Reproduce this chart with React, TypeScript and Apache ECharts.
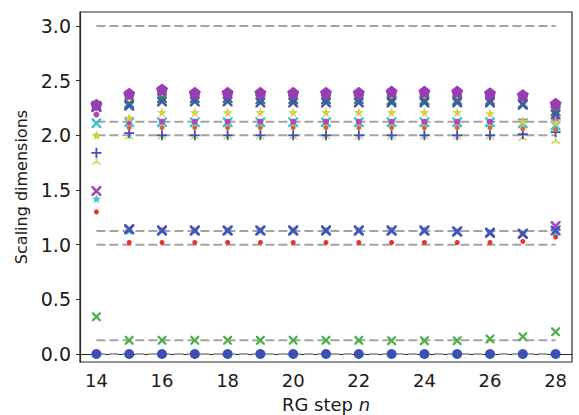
import React, { useEffect, useRef } from "react";
import * as echarts from "echarts";

const steps = [14, 15, 16, 17, 18, 19, 20, 21, 22, 23, 24, 25, 26, 27, 28];
const exactDims = [0, 0.125, 1, 1.125, 2, 2.125, 3];
const xTicks = [14, 16, 18, 20, 22, 24, 26, 28];
const yTicks = [0, 0.5, 1, 1.5, 2, 2.5, 3];

const blueCircle = [0, 0, 0, 0, 0, 0, 0, 0, 0, 0, 0, 0, 0, 0, 0];
const greenX = [0.34, 0.125, 0.125, 0.125, 0.125, 0.125, 0.125, 0.125, 0.125, 0.122, 0.122, 0.122, 0.137, 0.158, 0.203];
const redDot = [1.3, 1.02, 1.02, 1.02, 1.02, 1.02, 1.02, 1.02, 1.02, 1.02, 1.02, 1.02, 1.02, 1.03, 1.07];
const blueX = [null, 1.14, 1.13, 1.13, 1.13, 1.13, 1.13, 1.13, 1.13, 1.13, 1.13, 1.12, 1.11, 1.1, 1.13];
const cyanStar = [1.42, 1.13, 1.13, 1.13, 1.13, 1.13, 1.13, 1.13, 1.13, 1.13, 1.13, 1.12, 1.11, 1.1, 1.12];
const purpleX = [1.49, 1.14, 1.13, 1.13, 1.13, 1.13, 1.13, 1.13, 1.13, 1.13, 1.13, 1.12, 1.11, 1.1, 1.17];
const yellowTri = [1.77, 2.0, 2.0, 2.0, 2.0, 2.0, 2.0, 2.0, 2.0, 2.0, 2.0, 2.0, 2.0, 1.99, 1.96];
const bluePlus = [1.84, 2.02, 2.0, 2.0, 2.0, 2.0, 2.0, 2.0, 2.0, 2.0, 2.0, 2.0, 2.0, 2.01, 2.03];
const orangeDot = [2.0, 2.07, 2.07, 2.07, 2.07, 2.07, 2.07, 2.07, 2.07, 2.07, 2.07, 2.07, 2.07, 2.06, 2.05];
const cyanX = [2.11, 2.12, 2.12, 2.12, 2.12, 2.12, 2.12, 2.12, 2.12, 2.12, 2.12, 2.12, 2.12, 2.11, 2.09];
const magentaDot = [2.19, 2.12, 2.125, 2.125, 2.125, 2.125, 2.125, 2.125, 2.125, 2.125, 2.125, 2.125, 2.125, 2.13, 2.14];
const yellowStar = [2.0, 2.16, 2.21, 2.21, 2.21, 2.21, 2.21, 2.21, 2.21, 2.21, 2.21, 2.21, 2.2, 2.13, 2.12];
const greenX2 = [2.27, 2.29, 2.34, 2.34, 2.34, 2.33, 2.33, 2.33, 2.33, 2.32, 2.32, 2.32, 2.32, 2.29, 2.22];
const blueX2 = [2.26, 2.27, 2.31, 2.31, 2.31, 2.3, 2.3, 2.3, 2.3, 2.3, 2.3, 2.3, 2.3, 2.28, 2.19];
const pentagon = [2.28, 2.38, 2.42, 2.39, 2.39, 2.39, 2.39, 2.39, 2.39, 2.4, 2.4, 2.4, 2.385, 2.37, 2.29];

const X_PATH = "path://M0,0 L1.8,0 L5,3.2 L8.2,0 L10,0 L10,1.8 L6.8,5 L10,8.2 L10,10 L8.2,10 L5,6.8 L1.8,10 L0,10 L0,8.2 L3.2,5 L0,1.8 Z";
const PLUS_PATH = "path://M4.1,0 H5.9 V4.1 H10 V5.9 H5.9 V10 H4.1 V5.9 H0 V4.1 H4.1 Z";
const STAR_PATH = "path://M5,0 L6.18,3.38 L9.76,3.45 L6.9,5.62 L7.94,9.05 L5,7 L2.06,9.05 L3.1,5.62 L0.24,3.45 L3.82,3.38 Z";
const PENT_PATH = "path://M5,0 L9.76,3.45 L7.94,9.05 L2.06,9.05 L0.24,3.45 Z";
const TRI_PATH = "path://M4.2,0 L5.8,0 L5.8,5.4 L9.6,8.6 L8.6,9.8 L5,6.8 L1.4,9.8 L0.4,8.6 L4.2,5.4 Z";

function pts(vals: (number | null)[]) {
  return steps.map((s, i) => [s, vals[i]]);
}

export default function App() {
  const ref = useRef<HTMLDivElement>(null);
  useEffect(() => {
    if (!ref.current) return;
    const chart = echarts.init(ref.current, null, { renderer: "svg" });
    const font = "DejaVu Sans";
    const lineSeries = exactDims.map((v) => ({
      type: "line",
      data: [[steps[0], v], [steps[steps.length - 1], v]],
      symbol: "none",
      lineStyle: { color: "#a3a3a3", width: 2, type: [9, 4] },
      silent: true,
      z: 1,
    }));
    const sc = (data: (number | null)[], symbol: string, size: number, color: string) => ({
      type: "scatter",
      data: pts(data),
      symbol,
      symbolSize: size,
      itemStyle: { color, opacity: 1 },
      z: 3,
    });
    const option = {
      animation: false,
      backgroundColor: "#ffffff",
      grid: {
        left: 80,
        right: 7,
        top: 12,
        bottom: 53,
        outerBoundsMode: "none",
        containLabel: false,
        show: true,
        borderColor: "#2b2b2b",
        borderWidth: 1.2,
        backgroundColor: "transparent",
      },
      xAxis: {
        type: "value",
        min: 13.5,
        max: 28.5,
        name: "RG step {i|n}",
        nameLocation: "middle",
        nameGap: 33,
        nameTextStyle: {
          fontFamily: font,
          fontSize: 18,
          color: "#1a1a1a",
          rich: { i: { fontFamily: font, fontSize: 18, fontStyle: "italic", color: "#1a1a1a" } },
        },
        axisLine: { show: true, lineStyle: { color: "#2b2b2b", width: 1.2 } },
        axisTick: { show: true, length: 4, customValues: xTicks, lineStyle: { color: "#2b2b2b" } },
        axisLabel: {
          customValues: xTicks,
          fontFamily: font,
          fontSize: 18,
          color: "#1a1a1a",
          margin: 9,
        },
        splitLine: { show: false },
      },
      yAxis: {
        type: "value",
        min: -0.073,
        max: 3.128,
        name: "Scaling dimensions",
        nameLocation: "middle",
        nameGap: 51,
        nameTextStyle: { fontFamily: font, fontSize: 16, color: "#1a1a1a" },
        axisLine: { show: true, lineStyle: { color: "#2b2b2b", width: 1.2 } },
        axisTick: { show: true, length: 4, customValues: yTicks, lineStyle: { color: "#2b2b2b" } },
        axisLabel: {
          customValues: yTicks,
          fontFamily: font,
          fontSize: 19,
          color: "#1a1a1a",
          margin: 9,
          formatter: (v: number) => v.toFixed(1),
        },
        splitLine: { show: false },
      },
      series: [
        ...lineSeries,
        sc(blueCircle, "circle", 10, "#3a50b7"),
        sc(greenX, X_PATH, 9, "#4daf4a"),
        sc(redDot, "circle", 5, "#e8322d"),
        sc(cyanStar, STAR_PATH, 9, "#3ec3cc"),
        sc(purpleX, X_PATH, 10, "#a24cb4"),
        sc(blueX, X_PATH, 10, "#4455b8"),
        sc(yellowTri, TRI_PATH, 9, "#d2cf4a"),
        sc(bluePlus, PLUS_PATH, 10, "#3f4fb5"),
        sc(orangeDot, "circle", 5, "#e0602a"),
        sc(cyanX, X_PATH, 10, "#3ec3cc"),
        sc(magentaDot, "circle", 6, "#b144c0"),
        sc(yellowStar, STAR_PATH, 10, "#d6d046"),
        sc(greenX2, X_PATH, 10, "#3b8a3b"),
        sc(blueX2, X_PATH, 10, "#4455b8"),
        sc(pentagon, PENT_PATH, 12, "#9a3db3"),
      ],
    };
    chart.setOption(option as any);
    return () => chart.dispose();
  }, []);
  return (
    <div
      ref={ref}
      style={{ position: "fixed", left: 0, top: 0, width: 579, height: 415 }}
    />
  );
}
